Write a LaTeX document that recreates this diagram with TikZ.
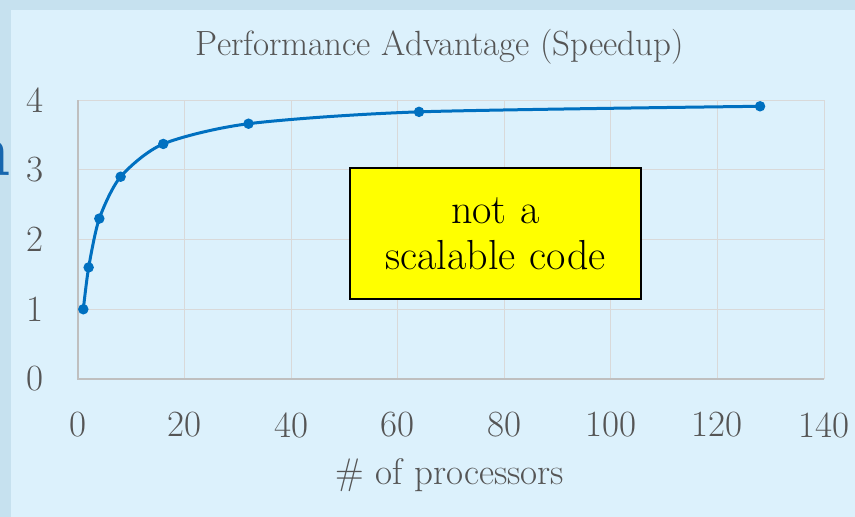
\documentclass[tikz,border=0pt]{standalone}
\usepackage{xcolor}
\definecolor{bandblue}{HTML}{C6E1EF}
\definecolor{panelblue}{HTML}{DCF1FC}
\definecolor{gridgray}{HTML}{D9D9D9}
\definecolor{axisgray}{HTML}{BFBFBF}
\definecolor{labelgray}{HTML}{555555}
\definecolor{seriesblue}{HTML}{0070C0}
\definecolor{headblue}{HTML}{1766AE}
\definecolor{noteyellow}{HTML}{FFFF00}
\begin{document}
\begin{tikzpicture}[x=1pt,y=-1pt,
  ticklabel/.style={text=labelgray,font=\fontsize{37}{39}\selectfont,inner sep=0pt},
  gridline/.style={draw=gridgray,line width=1pt},
  axisline/.style={draw=axisgray,line width=1.2pt},
  series/.style={draw=seriesblue,line width=3pt,line join=round},
  marker/.style={circle,fill=seriesblue,inner sep=0pt,minimum size=10.5pt},
  callout/.style={draw=black,line width=2pt,fill=noteyellow,align=center,
    text width=291pt,minimum height=131pt,inner sep=0pt,
    font=\fontsize{42}{49}\selectfont}]
  \useasboundingbox (0,0) rectangle (855,517);
  % slide background and chart panel
  \fill[bandblue] (0,0) rectangle (855,517);
  \fill[panelblue] (11,10) rectangle (855,517);
  % clipped heading letter from the slide behind
  \node[anchor=base east,inner sep=0pt,text=headblue,
        font=\fontsize{76}{76}\selectfont\bfseries] (head) at (11,175) {n};
  % title
  \node[text=labelgray,font=\fontsize{35}{37}\selectfont,inner sep=0pt] (title) at (440,47) {Performance Advantage (Speedup)};
  \begin{scope}[shift={(78,379)},x=5.3286pt,y=69.75pt]
    % grid
    \foreach \xv in {20,40,...,140} \draw[gridline] (\xv,0) -- (\xv,4);
    \foreach \yv in {1,2,3,4} \draw[gridline] (0,\yv) -- (140,\yv);
    \draw[axisline] (0,4) -- (0,0) -- (140,0);
    % tick labels
    \foreach \xv in {0,20,...,140}
      \node[ticklabel] (xl\xv) at (\xv,-0.66) {\xv};
    \foreach \yv in {0,1,2,3,4}
      \node[ticklabel] (yl\yv) at (-8.1,\yv) {\yv};
    % data points
    \coordinate (p1) at (1,1);
    \coordinate (p2) at (2,1.6);
    \coordinate (p3) at (4,2.3);
    \coordinate (p4) at (8,2.9);
    \coordinate (p5) at (16,3.37);
    \coordinate (p6) at (32,3.66);
    \coordinate (p7) at (64,3.83);
    \coordinate (p8) at (128,3.91);
    \draw[series] plot[smooth,tension=0.45] coordinates {(p1) (p2) (p3) (p4) (p5) (p6) (p7) (p8)};
    \foreach \i in {1,...,8} \node[marker] (m\i) at (p\i) {};
  \end{scope}
  % axis title
  \node[text=labelgray,font=\fontsize{37}{39}\selectfont,inner sep=0pt] (xtitle) at (450,475) {\# of processors};
  % callout
  \node[callout] (note) at (495.5,233.5) {\raisebox{-3pt}{not a}\\scalable code};
\end{tikzpicture}
\end{document}
